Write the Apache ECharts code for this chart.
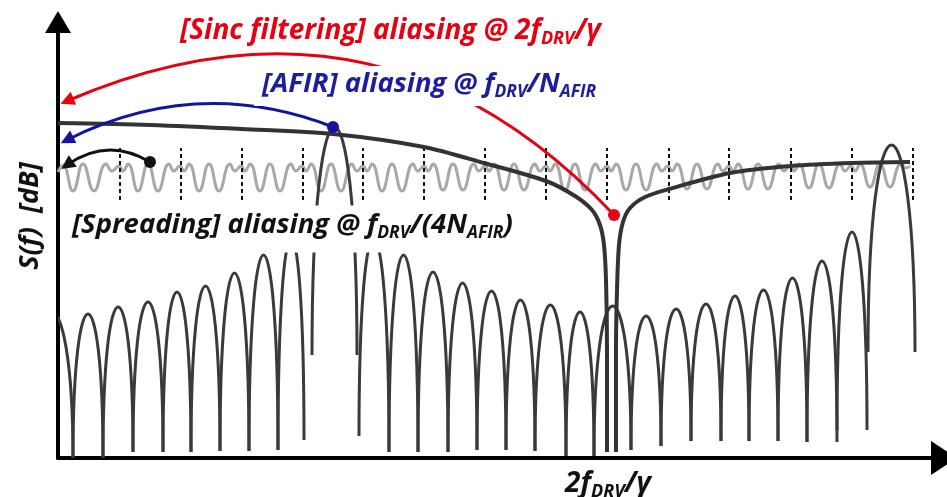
<!DOCTYPE html>
<html>
<head>
<meta charset="utf-8">
<script src="https://cdn.jsdelivr.net/npm/echarts@6/dist/echarts.min.js"></script>
<style>
  html, body { margin: 0; padding: 0; background: #ffffff; }
  #chart { width: 947px; height: 497px; }
</style>
</head>
<body>
<div id="chart"></div>
<script>
// Axis units: frequency in bins along x (S(f) axis at bin 0), level in dB-like units along y.
const freqMax = 886;
const levelMax = 436;

// Aliasing comb lobes: [left null, right null, peak level, level at left null, level at right null]
const lobes = [
  [-29, 15, 147, 0, 0],
  [15, 45, 144, 0, 0],
  [45, 75, 151, 0, 6],
  [75, 105, 156, 6, 6],
  [105, 133, 166, 6, 6],
  [133, 162, 172, 6, 7],
  [162, 191, 185, 7, 7],
  [191, 220, 203, 7, 8],
  [220, 246, 220, 8, 18],
  [254, 299, 331, 103, 103],
  [301, 331, 220, 22, 6],
  [331, 360, 203, 6, 6],
  [360, 390, 186, 6, 6],
  [390, 419, 175, 6, 8],
  [419, 448, 167, 8, 8],
  [448, 477, 158, 8, 7],
  [477, 508, 153, 7, 2],
  [508, 536, 146, 2, 2],
  [536, 573, 152, 2, 8],
  [573, 603, 142, 8, 12],
  [603, 633, 149, 12, 17],
  [633, 663, 154, 17, 17],
  [663, 691, 162, 17, 17],
  [691, 720, 168, 17, 17],
  [720, 749, 180, 17, 16],
  [749, 779, 197, 16, 16],
  [779, 809, 226, 28, 28],
  [810, 857, 313, 106, 106]
];

// Sinc filter response, falling into its null at 2f_DRV/γ and rising again
const sincLeft = [
  [0, 335], [92, 333], [184, 329], [275, 324], [366, 311], [426, 295],
  [488, 277], [517, 262], [534, 248], [542, 233], [546, 213], [548, 178],
  [549, 108], [549, 6]
];
const sincRight = [
  [558, 6], [558, 108], [559, 168], [561, 213], [565, 236], [572, 250],
  [587, 261], [611, 269], [672, 285], [733, 292], [794, 295], [852, 296]
];

// Spread-spectrum ripple
const spreadRipple = [
  [0, 286], [5, 293], [15, 267], [25, 294], [36, 267], [48, 294], [54, 287],
  [61, 292], [65, 287], [70, 294], [80, 267], [90, 294], [100, 267], [111, 294], [116, 287],
  [122, 292], [126, 287], [131, 294], [141, 267], [151, 294], [161, 267], [172, 294], [177, 287],
  [183, 292], [187, 287], [192, 294], [202, 267], [212, 294], [222, 267], [233, 294], [238, 287],
  [244, 292], [248, 287], [253, 294], [263, 267], [273, 294], [283, 267], [294, 294], [299, 287],
  [305, 292], [309, 287], [314, 294], [324, 267], [334, 294], [344, 267], [355, 294], [360, 287],
  [366, 292], [370, 287], [375, 294], [385, 268], [395, 294], [405, 268], [416, 294], [421, 287],
  [427, 292], [431, 287], [436, 294], [446, 268], [456, 294], [466, 268], [477, 294], [482, 287],
  [488, 292], [492, 287], [497, 294], [507, 268], [517, 294], [527, 268], [538, 294], [543, 287],
  [549, 292], [553, 287], [558, 294], [568, 268], [578, 294], [588, 268], [599, 294], [604, 287],
  [610, 292], [614, 287], [619, 294], [629, 269], [639, 294], [649, 269], [660, 294], [665, 287],
  [671, 292], [675, 287], [680, 294], [690, 269], [700, 294], [710, 269], [721, 294], [726, 287],
  [732, 292], [736, 287], [741, 294], [751, 270], [761, 294], [771, 270], [782, 294], [787, 287],
  [793, 292], [797, 287], [802, 294], [812, 271], [822, 294], [832, 271], [843, 294], [848, 290], [852, 292]
];

// Spreading period markers (dashed) and their vertical extent
const periodMarks = [62, 123, 184, 245, 305, 366, 427, 488, 549, 611, 671, 733, 794, 855];
const periodMarkSpan = [258, 310];

// Aliasing points and where each folds back onto the S(f) axis
const aliasFrom = [[92, 296], [275, 331], [556, 243]];
const aliasTo = [[9, 293], [9, 318], [9, 357]];
const aliasBend = [-0.325, -0.222, -0.35];
const aliasColors = ['#111111', '#14149e', '#e60012'];

const fontFamily = '"Open Sans", Lato, sans-serif';
const lineDark = '#3a3a3a';

function richStyle(color, size, subSize) {
  return {
    n: { fontSize: size, fontWeight: 'bold', fontStyle: 'italic', fontFamily: fontFamily, fill: color, lineHeight: 34 },
    s: { fontSize: subSize, fontWeight: 'bold', fontStyle: 'italic', fontFamily: fontFamily, fill: color, lineHeight: 21, verticalAlign: 'bottom' }
  };
}

const chart = echarts.init(document.getElementById('chart'), null, { renderer: 'canvas' });

const option = {
  animation: false,
  backgroundColor: '#ffffff',
  grid: { left: 58, top: 22, right: 947 - 58 - freqMax, bottom: 39, outerBoundsMode: 'none', containLabel: false },
  xAxis: {
    type: 'value', min: 0, max: freqMax,
    axisLine: { show: true, onZero: false, symbol: ['none', 'triangle'], symbolSize: [34, 26],
      lineStyle: { color: '#000000', width: 4 } },
    axisTick: { show: false }, axisLabel: { show: false }, splitLine: { show: false }
  },
  yAxis: {
    type: 'value', min: 0, max: levelMax,
    axisLine: { show: true, onZero: false, symbol: ['none', 'triangle'], symbolSize: [26, 22],
      lineStyle: { color: '#000000', width: 4 } },
    axisTick: { show: false }, axisLabel: { show: false }, splitLine: { show: false }
  },
  series: [
    {
      name: 'ripple', type: 'line', data: spreadRipple, smooth: 0.5, symbol: 'none', z: 1,
      lineStyle: { color: '#a8a8a8', width: 3 }
    },
    {
      name: 'periods', type: 'custom', z: 2, data: periodMarks.map(function (x) { return [x, periodMarkSpan[0], periodMarkSpan[1]]; }),
      renderItem: function (params, api) {
        const a = api.coord([api.value(0), api.value(1)]);
        const b = api.coord([api.value(0), api.value(2)]);
        return { type: 'line', shape: { x1: a[0], y1: a[1], x2: b[0], y2: b[1] },
          style: { stroke: '#111111', lineWidth: 2, lineDash: [4, 3] } };
      }
    },
    {
      name: 'lobes', type: 'custom', z: 3, clip: true, data: lobes,
      renderItem: function (params, api) {
        const pL = api.coord([api.value(0), api.value(3)]);
        const pR = api.coord([api.value(1), api.value(4)]);
        const pT = api.coord([(api.value(0) + api.value(1)) / 2, api.value(2)]);
        const base = (pL[1] + pR[1]) / 2;
        const cy = base + (pT[1] - base) / 0.75;
        return { type: 'bezierCurve',
          shape: { x1: pL[0], y1: pL[1], x2: pR[0], y2: pR[1], cpx1: pL[0], cpy1: cy, cpx2: pR[0], cpy2: cy },
          style: { stroke: lineDark, lineWidth: 3, fill: null } };
      }
    },
    {
      name: 'sinc-low', type: 'line', data: sincLeft, smooth: 0.3, symbol: 'none', z: 4,
      lineStyle: { color: '#333333', width: 4 }
    },
    {
      name: 'sinc-high', type: 'line', data: sincRight, smooth: 0.3, symbol: 'none', z: 4,
      lineStyle: { color: '#333333', width: 4 }
    },
    {
      name: 'folding', type: 'lines', coordinateSystem: 'cartesian2d', z: 5,
      symbol: ['none', 'triangle'], symbolSize: 14,
      data: aliasFrom.map(function (p, i) {
        return { coords: [p, aliasTo[i]],
          lineStyle: { color: aliasColors[i], width: 3, opacity: 1, curveness: aliasBend[i] } };
      })
    },
    {
      name: 'alias-points', type: 'scatter', z: 6, symbolSize: 12,
      data: aliasFrom.map(function (p, i) { return { value: p, itemStyle: { color: aliasColors[i], opacity: 1 } }; })
    }
  ],
  graphic: [
    {
      type: 'text', x: 180, y: 31, z: 100,
      style: { text: '{n|[Sinc filtering] aliasing @ 2f}{s|DRV}{n|/γ}', rich: richStyle('#e60012', 28, 18),
        align: 'left', verticalAlign: 'middle' }
    },
    {
      type: 'text', x: 254, y: 86, z: 100,
      style: { text: '{n|[AFIR] aliasing @ f}{s|DRV}{n|/N}{s|AFIR}', rich: richStyle('#1d1d9e', 27.5, 17.5),
        align: 'left', verticalAlign: 'middle', backgroundColor: '#ffffff', padding: [1, 8, 5, 8] }
    },
    {
      type: 'text', x: 66, y: 229, z: 100,
      style: { text: '{n|[Spreading] aliasing @ f}{s|DRV}{n|/(4N}{s|AFIR}{n|)}', rich: richStyle('#111111', 27.5, 17.5),
        align: 'left', verticalAlign: 'middle', backgroundColor: '#ffffff', padding: [3, 6, 10, 6] }
    },
    {
      type: 'text', x: 608, y: 484, z: 100,
      style: { text: '{n|2f}{s|DRV}{n|/γ}', rich: richStyle('#111111', 28, 18),
        align: 'center', verticalAlign: 'middle' }
    },
    {
      type: 'text', x: 30, y: 216, z: 100, rotation: Math.PI / 2,
      style: { text: 'S(f)  [dB]', fill: '#111111', fontSize: 27, fontWeight: 'bold', fontStyle: 'italic',
        fontFamily: fontFamily, align: 'center', verticalAlign: 'middle' }
    }
  ]
};

chart.setOption(option);
</script>
</body>
</html>
